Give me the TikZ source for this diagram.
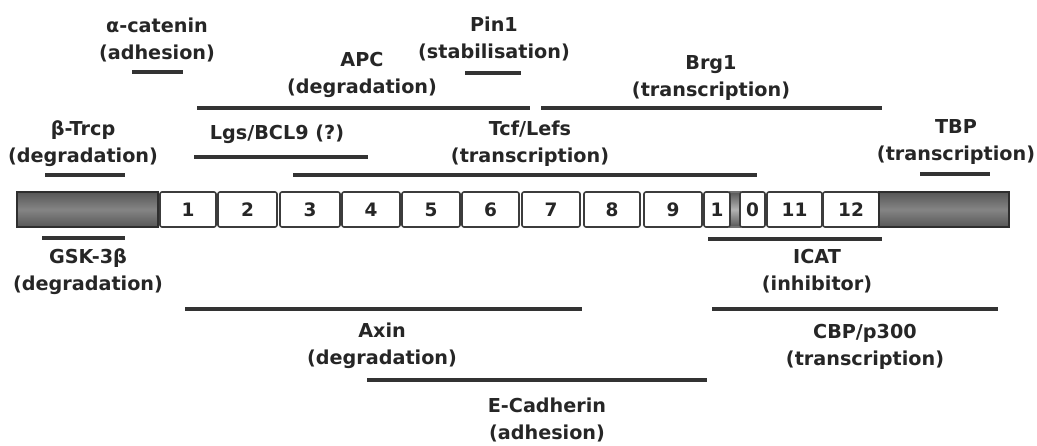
\documentclass[tikz,border=0pt]{standalone}
\usepackage{fontspec}
\setmainfont{DejaVu Sans}
\def\wRule{3.3pt}
\def\wEdge{1.6pt}
\definecolor{cInk}{HTML}{262626}
\definecolor{cRule}{HTML}{333333}
\definecolor{cEdge}{HTML}{3C3C3C}
\tikzset{
  lbl/.style={font=\fontsize{19.2}{27}\selectfont\bfseries, text=cInk, align=center, inner sep=0pt},
  bind/.style={draw=cRule, line width=\wRule},
  rep/.style={draw=cEdge, line width=\wEdge, rounded corners=2pt, fill=white, minimum height=35pt,
    inner sep=0pt, outer sep=0pt, anchor=west, font=\fontsize{18.5}{20}\selectfont\bfseries, text=cInk},
  term/.style={draw=black!82, line width=\wEdge, top color=black!66, bottom color=black!66, middle color=black!48,
    minimum height=35pt, inner sep=0pt, outer sep=0pt, anchor=west},
}

\begin{document}
\begin{tikzpicture}[x=1pt, y=-1pt]
\useasboundingbox[fill=white] (0,0) rectangle (1037,446);
% beta-catenin: N-term, 12 armadillo repeats, C-term (bar from y=192 to y=227)
\node[term, minimum width=141pt] (nterm) at (17,209.5) {};
\node[term, minimum width=10pt, draw=black!55, middle color=black!30] (hinge) at (730,209.5) {};
\foreach \i/\lab/\xa/\xb in {1/1/160/216, 2/2/218/277, 3/3/280/340, 4/4/342/400, 5/5/402/460,
    6/6/462/519, 7/7/522/580, 8/8/584/640, 9/9/644/702, 10a/1/704/730, 10b/0/740/765,
    11/11/767/822, 12/12/823/879}
  \node[rep, minimum width={(\xb-\xa)*1pt}] (r\i) at (\xa,209.5) {\lab};
\node[term, minimum width=130pt] (cterm) at (879,209.5) {};

% partners above the bar
\node[lbl] (acat) at (157,40)   {α-catenin\\(adhesion)};
\node[lbl] (pin)  at (494,39)   {Pin1\\(stabilisation)};
\node[lbl] (apc)  at (362,75)   {APC\\(degradation)};
\node[lbl] (brg)  at (711,78.5) {Brg1\\(transcription)};
\node[lbl] (btrc) at (83,143.5) {β-Trcp\\(degradation)};
\node[lbl] (lgs)  at (277,134)  {Lgs/BCL9 (?)};
\node[lbl] (tcf)  at (530,143.5) {Tcf/Lefs\\(transcription)};
\node[lbl] (tbp)  at (956,142.5) {TBP\\(transcription)};
\draw[bind] (132,72) -- (183,72);
\draw[bind] (465,73) -- (521,73);
\draw[bind] (197,108) -- (530,108);
\draw[bind] (541,108) -- (882,108);
\draw[bind] (45,175) -- (125,175);
\draw[bind] (194,157) -- (368,157);
\draw[bind] (293,175) -- (757,175);
\draw[bind] (920,174) -- (990,174);

% partners below the bar
\node[lbl] (gsk)  at (88,271.5)  {GSK-3β\\(degradation)};
\node[lbl] (icat) at (817,271.5) {ICAT\\(inhibitor)};
\node[lbl] (axin) at (382,346)   {Axin\\(degradation)};
\node[lbl] (cbp)  at (865,347)   {CBP/p300\\(transcription)};
\node[lbl] (ecad) at (547,420)   {E-Cadherin\\(adhesion)};
\draw[bind] (42,238) -- (125,238);
\draw[bind] (708,239) -- (882,239);
\draw[bind] (185,309) -- (582,309);
\draw[bind] (712,309) -- (998,309);
\draw[bind] (367,380) -- (707,380);
\end{tikzpicture}
\end{document}
